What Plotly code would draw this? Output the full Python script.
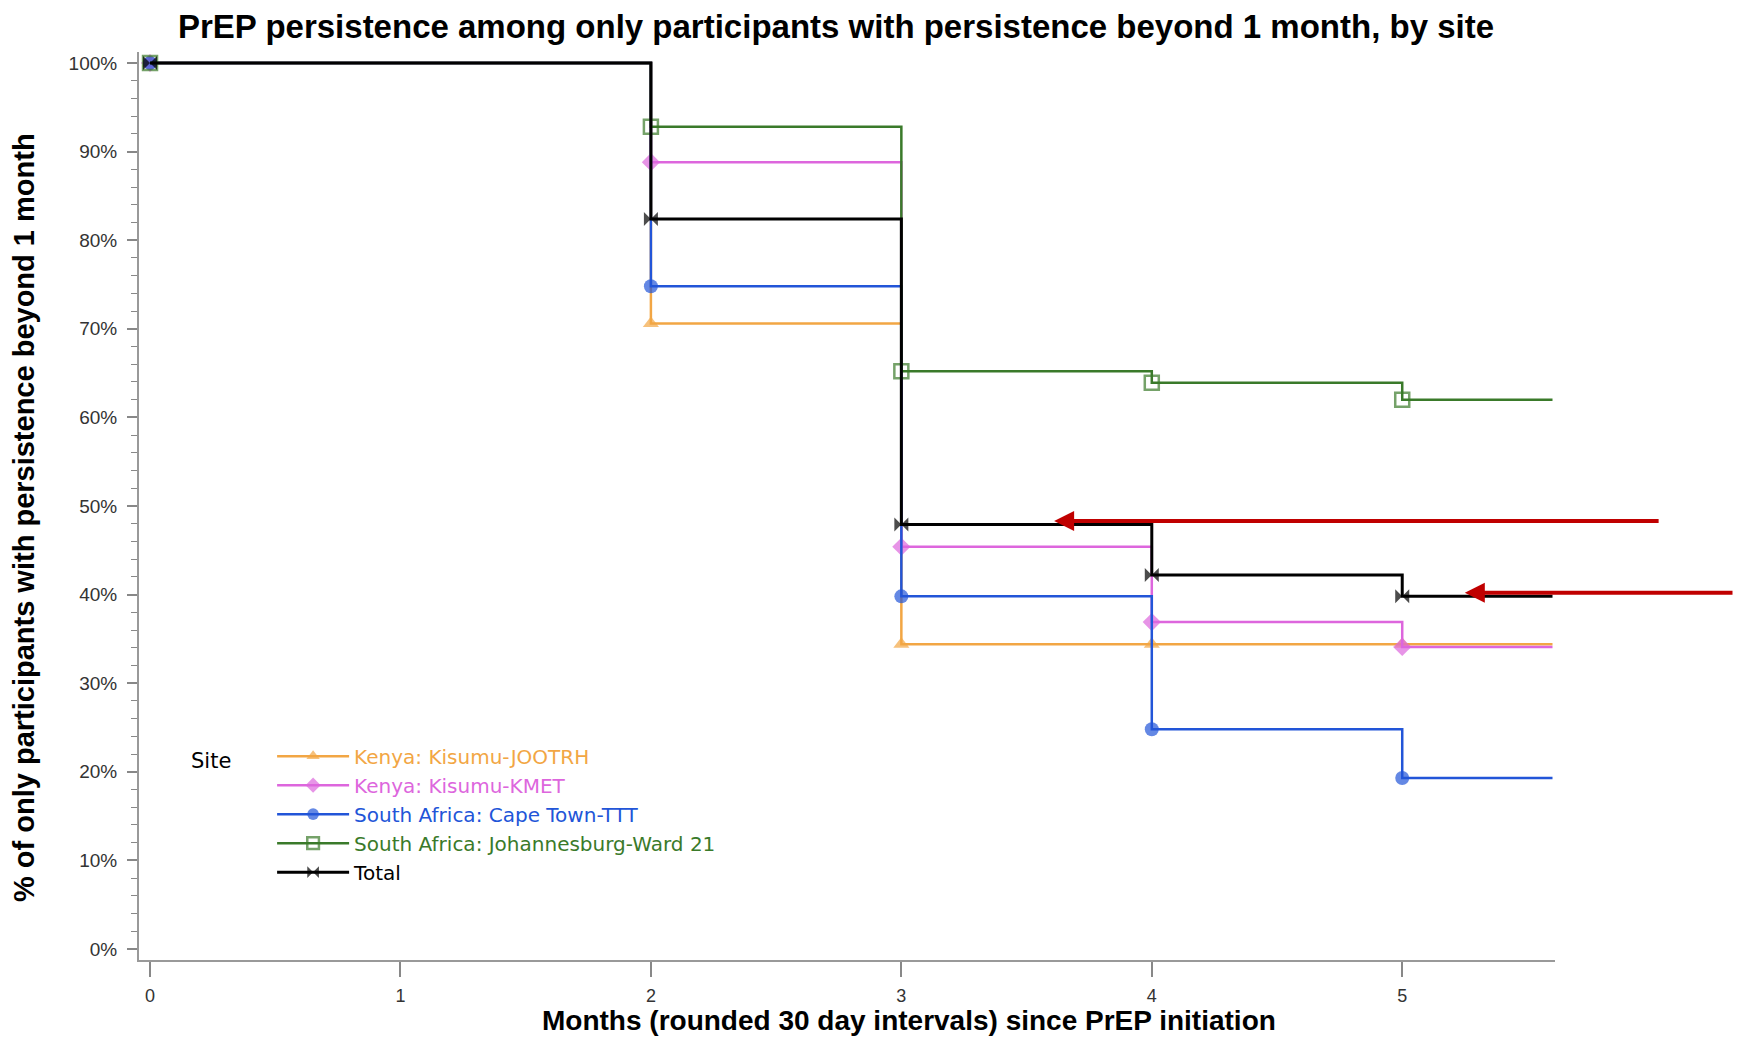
import plotly.graph_objects as go

# ---- data ----
months = [0, 2, 3, 4, 5, 5.6]          # last value = end of follow-up
site_names = [
    "Kenya: Kisumu-JOOTRH",
    "Kenya: Kisumu-KMET",
    "South Africa: Cape Town-TTT",
    "South Africa: Johannesburg-Ward 21",
    "Total",
]
jootrh = [100, 70.6, 34.4, 34.4, 34.4, 34.4]
kmet = [100, 88.8, 45.4, 36.9, 34.1, 34.1]
capetown = [100, 74.8, 39.8, 24.8, 19.3, 19.3]
joburg = [100, 92.8, 65.2, 63.9, 62.0, 62.0]
total = [100, 82.4, 47.9, 42.2, 39.8, 39.8]
x_ticks = [0, 1, 2, 3, 4, 5]
y_ticks = [0, 10, 20, 30, 40, 50, 60, 70, 80, 90, 100]
y_tick_labels = [f"{v}%" for v in y_ticks]

series = [jootrh, kmet, capetown, joburg, total]
colors = ["#F2A644", "#DD66DD", "#2255D8", "#3A7A2A", "#000000"]
symbols = ["triangle-up", "diamond", "circle", "square-open", "bowtie"]

W, H = 1726, 1028          # page has an 8px body margin
fig = go.Figure()
for name, vals, col, sym in zip(site_names, series, colors, symbols):
    sizes = [14] * (len(vals) - 1) + [0]
    fig.add_trace(go.Scatter(
        x=months, y=vals, mode="lines+markers", line_shape="hv",
        line=dict(color=col, width=3 if col == "#000000" else 2.5),
        marker=dict(symbol=sym, size=sizes, color=col,
                    line=dict(color=col, width=2.5 if sym == "square-open" else 0)),
        name=f"<span style='color:{col}'>{name}</span>",
    ))

fig.update_layout(
    width=W, height=H,
    margin=dict(l=131, r=179, t=44, b=76),
    paper_bgcolor="white", plot_bgcolor="white",
    font=dict(family="Liberation Sans, Arial, sans-serif", color="#000"),
    title=dict(text="<b>PrEP persistence among only participants with persistence beyond 1 month, by site</b>",
               x=828 / W, xanchor="center", y=1 - 18 / H, yanchor="middle",
               yref="container", font=dict(size=33, color="#000")),
    showlegend=True,
    legend=dict(x=0.094, y=0.246, xanchor="left", yanchor="top",
                bgcolor="rgba(0,0,0,0)",
                font=dict(size=20, family="DejaVu Sans, sans-serif"), itemwidth=72,
                tracegroupgap=0),
    xaxis=dict(range=[-0.044, 5.61], tickvals=x_ticks, ticks="outside", ticklen=15,
               tickcolor="#888", tickwidth=1.5, showline=True, linecolor="#999",
               linewidth=2, showgrid=False, zeroline=False, ticklabelstandoff=3,
               tickfont=dict(size=18, color="#333")),
    yaxis=dict(range=[-1.24, 101.24], tickvals=y_ticks, ticktext=y_tick_labels,
               ticks="outside", ticklen=10, tickcolor="#888", tickwidth=1.5,
               showline=True, linecolor="#999", linewidth=2, showgrid=False,
               zeroline=False, ticklabelstandoff=6,
               tickfont=dict(size=19, color="#333"),
               minor=dict(dtick=2, ticks="outside", ticklen=6, tickcolor="#888",
                          tickwidth=1.2, showgrid=False)),
)

# axis titles
fig.add_annotation(text="<b>Months (rounded 30 day intervals) since PrEP initiation</b>",
                   xref="paper", yref="paper", x=(909 - 139) / 1416, y=-(1020 - 960) / 908,
                   xanchor="center", yanchor="middle", showarrow=False,
                   font=dict(size=28, color="#000"))
fig.add_annotation(text="<b>% of only participants with persistence beyond 1 month</b>",
                   xref="paper", yref="paper", x=-(139 - 24) / 1416, y=(960 - 518) / 908,
                   xanchor="center", yanchor="middle", textangle=-90, showarrow=False,
                   font=dict(size=29, color="#000"))
# legend title
fig.add_annotation(text="Site", xref="paper", yref="paper",
                   x=(189 - 139) / 1416, y=(960 - 761) / 908,
                   xanchor="left", yanchor="middle", showarrow=False,
                   font=dict(size=21, color="#000", family="DejaVu Sans, sans-serif"))

# red arrows
fig.add_annotation(x=3.61, y=48.3, xref="x", yref="y", ax=606, ay=0,
                   axref="pixel", ayref="pixel", text="", showarrow=True,
                   arrowhead=2, arrowsize=1.0, arrowwidth=4, arrowcolor="#C00000")
fig.add_annotation(x=5.25, y=40.2, xref="x", yref="y", ax=290, ay=0,
                   axref="pixel", ayref="pixel", text="", showarrow=True,
                   arrowhead=2, arrowsize=1.0, arrowwidth=4, arrowcolor="#C00000")

fig.write_html("out.html")
